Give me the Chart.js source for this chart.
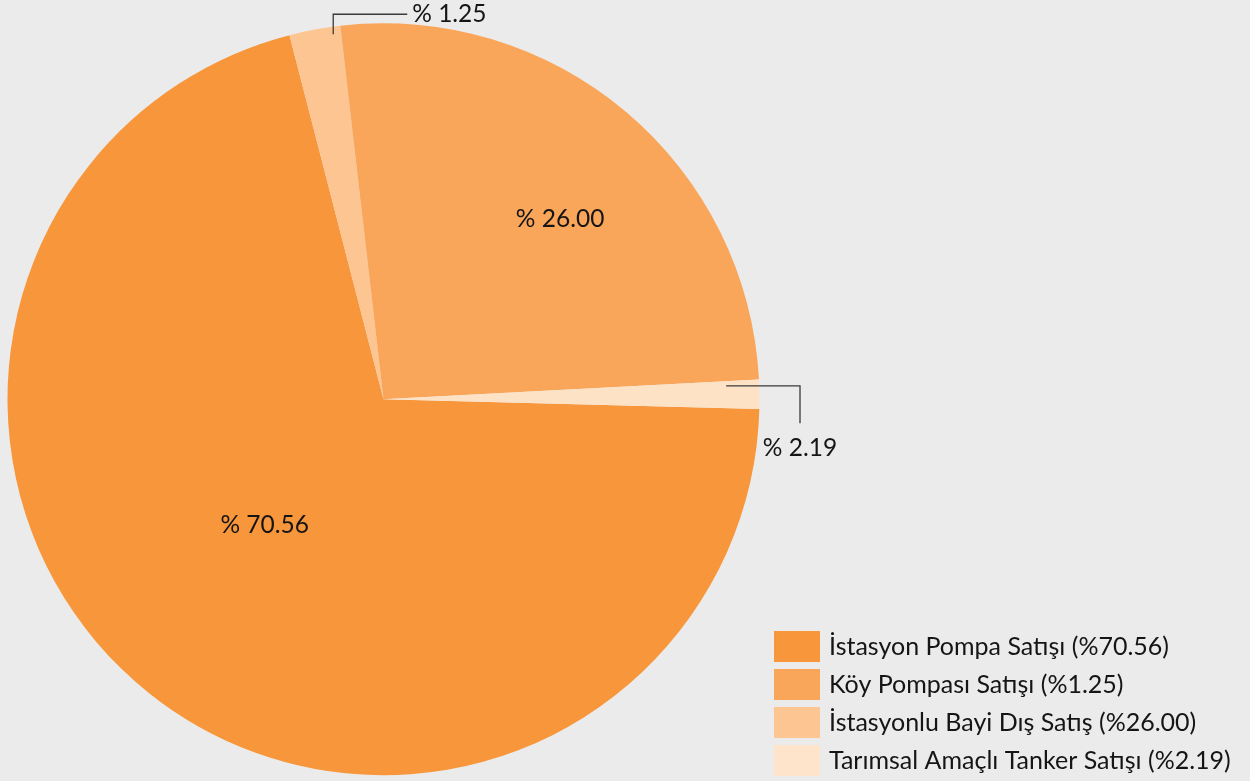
<!DOCTYPE html>
<html><head><meta charset="utf-8">
<script src="https://cdn.jsdelivr.net/npm/chart.js@4.4.1/dist/chart.umd.min.js"></script>
<style>html,body{margin:0;padding:0;background:#ebebeb;} canvas{display:block;}</style>
</head><body>
<canvas id="c" width="1250" height="781"></canvas>
<script>
// Legend categories and their stated values
const categories = ['İstasyon Pompa Satışı', 'Köy Pompası Satışı', 'İstasyonlu Bayi Dış Satış', 'Tarımsal Amaçlı Tanker Satışı'];
const legendValues = [70.56, 1.25, 26.00, 2.19];
const legendColors = ['#F7963A', '#F9A65A', '#FCC592', '#FEE4CA'];

// Slices as drawn in the picture, clockwise from 3 o'clock
const sliceValues = [70.56, 2.19, 26.00, 1.25];
const sliceLabels = ['% 70.56', '% 1.25', '% 26.00', '% 2.19'];
const sliceColors = ['#F7963A', '#FCC592', '#F9A65A', '#FEE2C6'];

const FONT = 'Lato, "Open Sans", sans-serif';
const TEXT = '#151515';

const labelPlugin = {
  id: 'sliceLabels',
  afterDraw(chart) {
    const ctx = chart.ctx;
    const arcs = chart.getDatasetMeta(0).data;
    ctx.save();
    ctx.fillStyle = TEXT;
    ctx.font = '24.5px ' + FONT;
    ctx.textBaseline = 'middle';
    // inside labels
    const inside = {0: {f: 0.46, off: 4.9}, 2: {f: 0.67, off: 4.3}};
    for (const k in inside) {
      const a = arcs[k];
      const p = a.getProps(['x', 'y', 'startAngle', 'endAngle', 'outerRadius'], true);
      const m = (p.startAngle + p.endAngle) / 2 + inside[k].off * Math.PI / 180;
      const d = inside[k].f * p.outerRadius;
      ctx.textAlign = 'center';
      ctx.fillText(sliceLabels[k], p.x + d * Math.cos(m), p.y + d * Math.sin(m));
    }
    ctx.strokeStyle = '#3a3a3a';
    ctx.lineWidth = 1.3;
    // top small slice: elbow up then right
    {
      const p = arcs[1].getProps(['x', 'y', 'startAngle', 'endAngle', 'outerRadius'], true);
      const m = (p.startAngle + p.endAngle) / 2 + 2.7 * Math.PI / 180;
      const ax = p.x + 0.98 * p.outerRadius * Math.cos(m);
      const ay = p.y + 0.98 * p.outerRadius * Math.sin(m);
      const ty = p.y - p.outerRadius - 9;
      ctx.beginPath();
      ctx.moveTo(ax, ay); ctx.lineTo(ax, ty); ctx.lineTo(ax + 74, ty);
      ctx.stroke();
      ctx.textAlign = 'left';
      ctx.fillText(sliceLabels[1], ax + 79, ty);
    }
    // right thin slice: elbow right then down
    {
      const p = arcs[3].getProps(['x', 'y', 'startAngle', 'endAngle', 'outerRadius'], true);
      const m = (p.startAngle + p.endAngle) / 2 - 1.5 * Math.PI / 180;
      const ax = p.x + 0.912 * p.outerRadius * Math.cos(m);
      const ay = p.y + 0.912 * p.outerRadius * Math.sin(m);
      const tx = p.x + p.outerRadius + 40.5;
      ctx.beginPath();
      ctx.moveTo(ax, ay); ctx.lineTo(tx, ay); ctx.lineTo(tx, ay + 37.5);
      ctx.stroke();
      ctx.textAlign = 'center';
      ctx.fillText(sliceLabels[3], tx, ay + 62);
    }
    // legend
    ctx.textAlign = 'left';
    ctx.font = '25px ' + FONT;
    for (let i = 0; i < categories.length; i++) {
      const top = 631 + i * 38;
      ctx.fillStyle = legendColors[i];
      ctx.fillRect(774, top, 46, 31);
      ctx.fillStyle = TEXT;
      ctx.fillText(categories[i] + ' (%' + legendValues[i].toFixed(2) + ')', 829, top + 16);
    }
    ctx.restore();
  }
};

new Chart(document.getElementById('c'), {
  type: 'pie',
  data: {
    labels: sliceLabels,
    datasets: [{ data: sliceValues, backgroundColor: sliceColors, borderWidth: 0 }]
  },
  options: {
    responsive: false,
    animation: false,
    rotation: 91.5,
    layout: { padding: { left: 7.5, top: 23, right: 490.5, bottom: 5.5 } },
    plugins: { legend: { display: false }, tooltip: { enabled: false } }
  },
  plugins: [labelPlugin]
});
</script>
</body></html>
